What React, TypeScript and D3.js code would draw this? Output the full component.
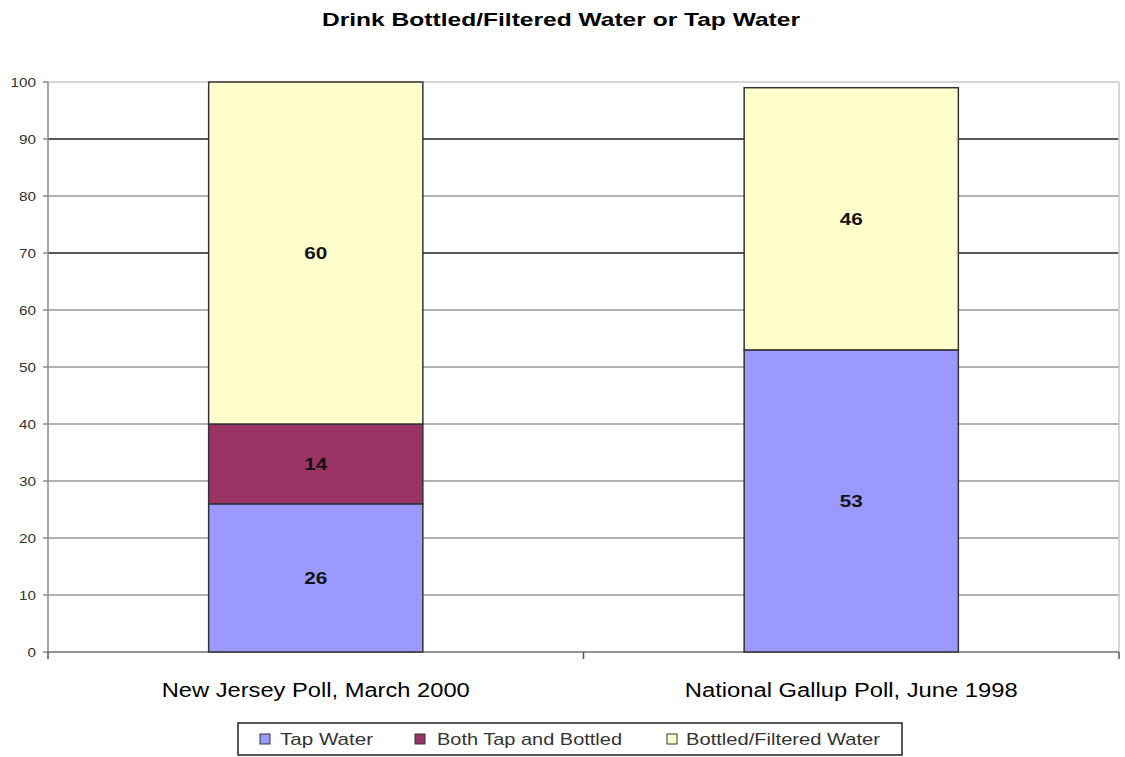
import React from "react";
import * as d3 from "d3";

const categories = ["New Jersey Poll, March 2000", "National Gallup Poll, June 1998"];
const seriesNames = ["Tap Water", "Both Tap and Bottled", "Bottled/Filtered Water"];
const tapWater = [26, 53];
const bothTapBottled = [14, 0];
const bottledFiltered = [60, 46];
const yTicks = [0, 10, 20, 30, 40, 50, 60, 70, 80, 90, 100];
const darkGrid = [70, 90];

const colors = ["#9999ff", "#993366", "#ffffcc"];

const W = 1125;
const H = 757;
const left = 48;
const right = 1119;
const top = 82;
const bottom = 652;
// the reference text is stretched sideways, so widths are forced
const stretch = 1.26;

const App = () => {
  const x = d3.scaleBand<string>().domain(categories).range([left, right]).padding(0);
  const y = d3.scaleLinear().domain([0, 100]).range([bottom, top]);
  const barW = x.bandwidth() * 0.4;

  const rows = categories.map((c, i) => ({
    cat: c,
    tap: tapWater[i],
    both: bothTapBottled[i],
    bottled: bottledFiltered[i],
  }));
  const stacked = d3.stack<any>().keys(["tap", "both", "bottled"])(rows);

  const font = "Arial, 'Liberation Sans', sans-serif";

  const legendItems = [
    { x: 260, tx: 280, w: 93 },
    { x: 415, tx: 437, w: 185 },
    { x: 667, tx: 686, w: 194 },
  ];
  const catWidths = [308, 333];

  return (
    <svg width={W} height={H} style={{ position: "absolute", left: 0, top: 0 }} fontFamily={font}>
      <rect width={W} height={H} fill="#fff" />
      <text
        x={561}
        y={26}
        textAnchor="middle"
        fontSize={19}
        fontWeight="bold"
        fill="#000"
        textLength={478}
        lengthAdjust="spacingAndGlyphs"
      >
        Drink Bottled/Filtered Water or Tap Water
      </text>

      {yTicks.map((t) => (
        <g key={t}>
          <line
            x1={left}
            x2={right}
            y1={y(t)}
            y2={y(t)}
            stroke={t === 100 ? "#c8c8c8" : darkGrid.includes(t) ? "#222" : "#999"}
            strokeWidth={1.5}
          />
          <line x1={left - 5} x2={left} y1={y(t)} y2={y(t)} stroke="#888" strokeWidth={1.5} />
          <text
            x={36}
            y={y(t) + 5}
            textAnchor="end"
            fontSize={13.5}
            fill="#333"
            textLength={String(t).length * 7.5 * stretch * 0.9}
            lengthAdjust="spacingAndGlyphs"
          >
            {t}
          </text>
        </g>
      ))}
      <line x1={right} x2={right} y1={top} y2={bottom} stroke="#c8c8c8" strokeWidth={1.5} />
      <line x1={left} x2={left} y1={top} y2={bottom} stroke="#888" strokeWidth={1.5} />
      <line x1={left} x2={right} y1={bottom} y2={bottom} stroke="#888" strokeWidth={1.5} />
      {[left, left + x.bandwidth(), right].map((tx, i) => (
        <line key={i} x1={tx} x2={tx} y1={bottom} y2={bottom + 7} stroke="#555" strokeWidth={1.5} />
      ))}

      {stacked.map((layer, li) =>
        layer.map((d, i) => {
          const v = d[1] - d[0];
          if (v <= 0) return null;
          const cx = (x(categories[i]) as number) + x.bandwidth() / 2;
          return (
            <g key={`${li}-${i}`}>
              <rect
                x={cx - barW / 2}
                y={y(d[1])}
                width={barW}
                height={y(d[0]) - y(d[1])}
                fill={colors[li]}
                stroke="#333"
                strokeWidth={1.5}
              />
              <text
                x={cx}
                y={(y(d[0]) + y(d[1])) / 2 + 6}
                textAnchor="middle"
                fontSize={16}
                fontWeight="bold"
                fill="#111"
                textLength={23}
                lengthAdjust="spacingAndGlyphs"
              >
                {v}
              </text>
            </g>
          );
        })
      )}

      {categories.map((c, i) => (
        <text
          key={c}
          x={(x(c) as number) + x.bandwidth() / 2}
          y={697}
          textAnchor="middle"
          fontSize={20}
          fill="#000"
          textLength={catWidths[i]}
          lengthAdjust="spacingAndGlyphs"
        >
          {c}
        </text>
      ))}

      <rect x={238} y={723} width={664} height={32} fill="#fff" stroke="#222" strokeWidth={1.5} />
      {seriesNames.map((n, i) => (
        <g key={n}>
          <rect x={legendItems[i].x} y={734} width={10} height={10} fill={colors[i]} stroke="#333" strokeWidth={1} />
          <text
            x={legendItems[i].tx}
            y={745}
            fontSize={17}
            fill="#333"
            textLength={legendItems[i].w}
            lengthAdjust="spacingAndGlyphs"
          >
            {n}
          </text>
        </g>
      ))}
    </svg>
  );
};

export default App;
